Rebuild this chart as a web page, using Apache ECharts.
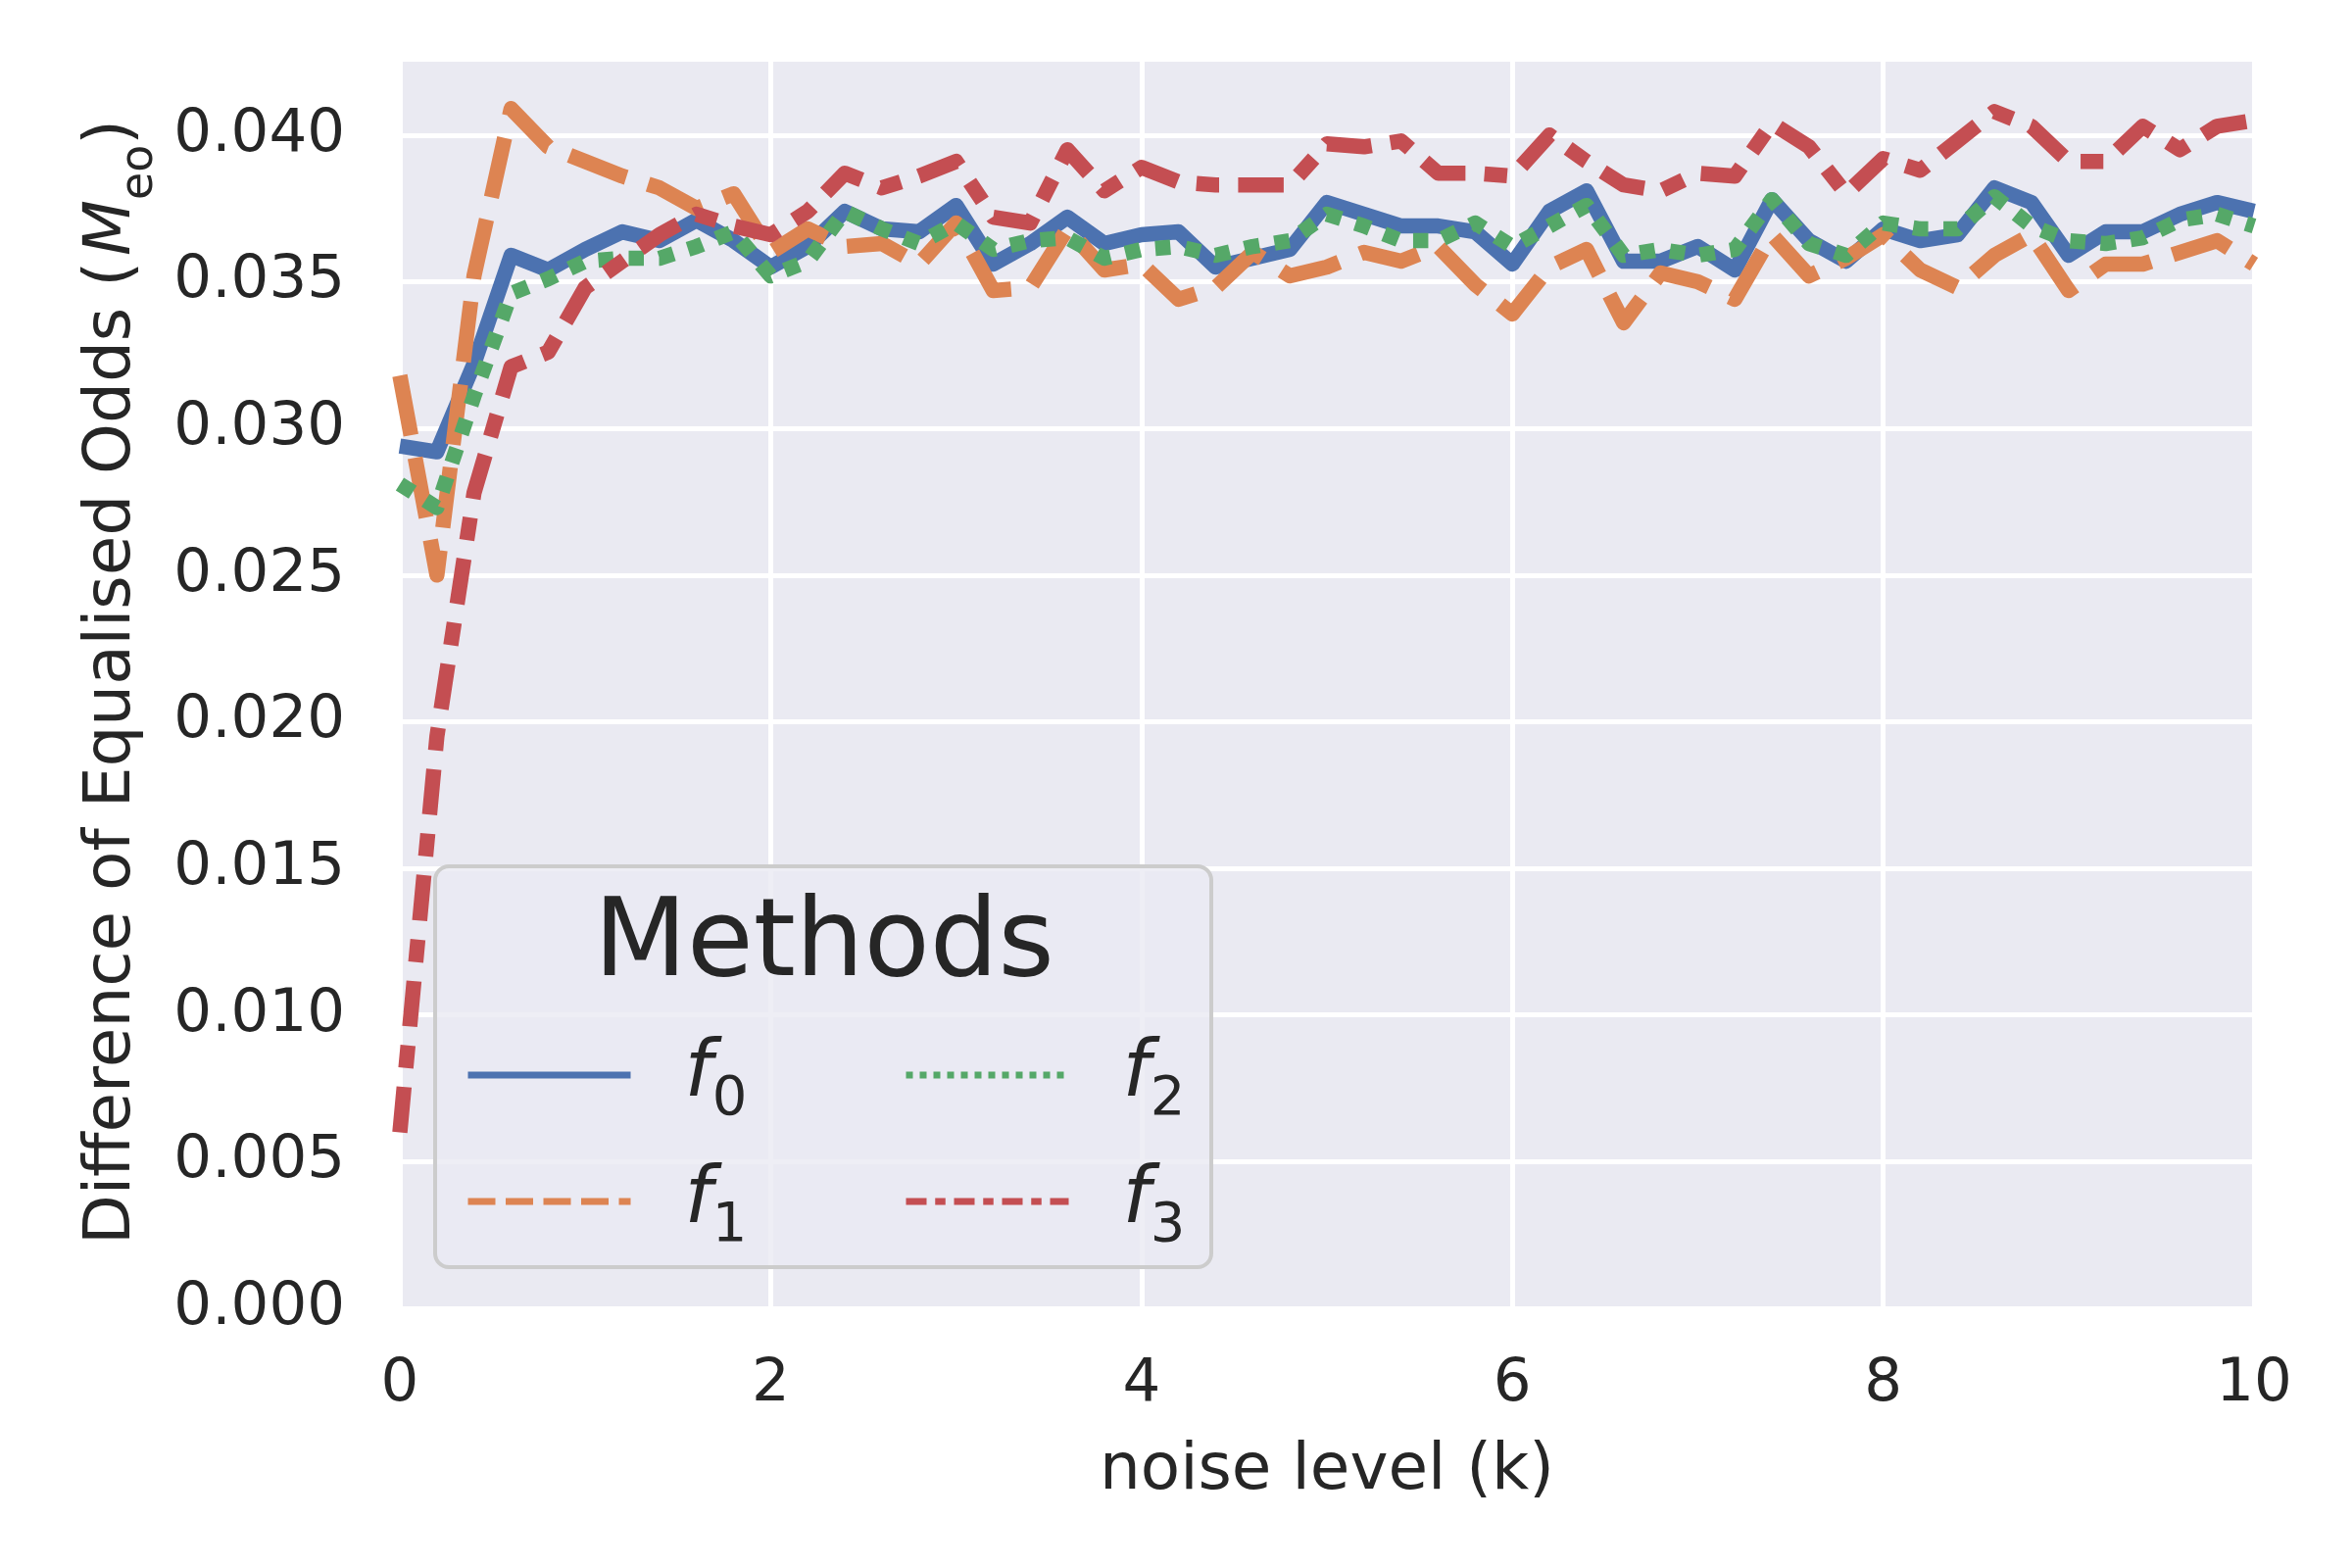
<!DOCTYPE html>
<html>
<head>
<meta charset="utf-8">
<title>Difference of Equalised Odds vs noise level</title>
<script src="https://cdn.jsdelivr.net/npm/echarts@6/dist/echarts.min.js"></script>
<style>
  html, body { margin: 0; padding: 0; background: #ffffff; }
  #chart { width: 2400px; height: 1600px; }
</style>
</head>
<body>
<div id="chart"></div>
<script>
// noise level k, one sample every 0.2
var noiseLevels = [
  0.0, 0.2, 0.4, 0.6, 0.8, 1.0, 1.2, 1.4, 1.6, 1.8,
  2.0, 2.2, 2.4, 2.6, 2.8, 3.0, 3.2, 3.4, 3.6, 3.8,
  4.0, 4.2, 4.4, 4.6, 4.8, 5.0, 5.2, 5.4, 5.6, 5.8,
  6.0, 6.2, 6.4, 6.6, 6.8, 7.0, 7.2, 7.4, 7.6, 7.8,
  8.0, 8.2, 8.4, 8.6, 8.8, 9.0, 9.2, 9.4, 9.6, 9.8, 10.0
];

var f0 = [
  0.0294, 0.0292, 0.0322, 0.0359, 0.0354, 0.0361, 0.0367, 0.0364, 0.0371, 0.0364,
  0.0355, 0.0362, 0.0374, 0.0368, 0.0367, 0.0376, 0.0356, 0.0363, 0.0372, 0.0363,
  0.0366, 0.0367, 0.0355, 0.0358, 0.0361, 0.0377, 0.0373, 0.0369, 0.0369, 0.0367,
  0.0356, 0.0374, 0.0381, 0.0357, 0.0357, 0.0362, 0.0354, 0.0378, 0.0364, 0.0357,
  0.0368, 0.0364, 0.0366, 0.0382, 0.0377, 0.0359, 0.0367, 0.0367, 0.0373, 0.0377, 0.0374
];

var f1 = [
  0.0318, 0.0250, 0.0352, 0.0409, 0.0396, 0.0391, 0.0386, 0.0382, 0.0375, 0.0380,
  0.0360, 0.0368, 0.0362, 0.0363, 0.0356, 0.0370, 0.0347, 0.0348, 0.0368, 0.0354,
  0.0356, 0.0344, 0.0348, 0.0360, 0.0352, 0.0355, 0.0360, 0.0357, 0.0362, 0.0349,
  0.0339, 0.0355, 0.0361, 0.0336, 0.0353, 0.0350, 0.0344, 0.0366, 0.0352, 0.0358,
  0.0366, 0.0354, 0.0348, 0.0359, 0.0366, 0.0347, 0.0356, 0.0356, 0.0360, 0.0364, 0.0356
];

var f2 = [
  0.0281, 0.0273, 0.0311, 0.0346, 0.0351, 0.0357, 0.0358, 0.0358, 0.0362, 0.0367,
  0.0352, 0.0357, 0.0374, 0.0368, 0.0363, 0.0370, 0.0361, 0.0364, 0.0365, 0.0358,
  0.0361, 0.0362, 0.0359, 0.0362, 0.0364, 0.0373, 0.0369, 0.0364, 0.0364, 0.0370,
  0.0362, 0.0369, 0.0376, 0.0359, 0.0361, 0.0359, 0.0361, 0.0378, 0.0363, 0.0359,
  0.0370, 0.0368, 0.0368, 0.0379, 0.0369, 0.0364, 0.0363, 0.0365, 0.0371, 0.0373, 0.0369
];

var f3 = [
  0.0060, 0.0195, 0.0278, 0.0321, 0.0326, 0.0348, 0.0357, 0.0366, 0.0373, 0.0369,
  0.0366, 0.0374, 0.0387, 0.0382, 0.0386, 0.0391, 0.0372, 0.0370, 0.0395, 0.0381,
  0.0389, 0.0384, 0.0383, 0.0383, 0.0383, 0.0397, 0.0396, 0.0398, 0.0387, 0.0387,
  0.0386, 0.0400, 0.0391, 0.0383, 0.0381, 0.0387, 0.0386, 0.0404, 0.0396, 0.0380,
  0.0392, 0.0388, 0.0398, 0.0408, 0.0403, 0.0391, 0.0391, 0.0403, 0.0395, 0.0403, 0.0405
];

var xTicks = [0, 2, 4, 6, 8, 10];
var yTicks = [0.000, 0.005, 0.010, 0.015, 0.020, 0.025, 0.030, 0.035, 0.040];
var methodNames = ['f0', 'f1', 'f2', 'f3'];

var FONT = '"DejaVu Sans", "Liberation Sans", sans-serif';
var INK = '#262626';
var colors = ['#4C72B0', '#DD8452', '#55A868', '#C44E52'];
// seaborn's default dash sequence, scaled by line width
var dashUnits = [null, [4, 1.5], [1, 1], [3, 1.25, 1.5, 1.25]];
function dashFor(i, w) {
  return dashUnits[i] ? dashUnits[i].map(function (d) { return d * w; }) : 'solid';
}
var LW = 15.5;   // plotted lines
var LLW = 7;     // legend handles
var seriesValues = [f0, f1, f2, f3];

function pairs(ys) {
  return noiseLevels.map(function (x, i) { return [x, ys[i]]; });
}

var chart = echarts.init(document.getElementById('chart'), null, { renderer: 'canvas' });

var series = methodNames.map(function (name, i) {
  return {
    name: name,
    type: 'line',
    data: pairs(seriesValues[i]),
    symbol: 'none',
    showSymbol: false,
    smooth: false,
    animation: false,
    lineStyle: { color: colors[i], width: LW, type: dashFor(i, LW), cap: 'butt', join: 'round' },
    itemStyle: { color: colors[i] },
    emphasis: { disabled: true }
  };
});

var hiddenSymbol = { color: 'rgba(0,0,0,0)', borderColor: 'rgba(0,0,0,0)', borderWidth: 0, opacity: 0 };

function legendColumn(names, left) {
  return {
    show: true,
    orient: 'vertical',
    left: left, top: 1044,
    padding: 0,
    itemGap: 23,
    itemWidth: 166, itemHeight: 80,
    selectedMode: false,
    z: 8,
    itemStyle: hiddenSymbol,
    lineStyle: { width: LLW },
    data: names.map(function (name) {
      var i = methodNames.indexOf(name);
      return {
        name: name,
        itemStyle: hiddenSymbol,
        lineStyle: { width: LLW, type: dashFor(i, LLW), cap: 'butt' }
      };
    }),
    formatter: function (name) { return '{f|f}{s|' + name.slice(1) + '}'; },
    textStyle: {
      color: INK, fontFamily: FONT,
      rich: {
        f: { fontStyle: 'italic', fontSize: 80, lineHeight: 80, padding: [0, 0, 0, 50], color: INK, fontFamily: FONT },
        s: { fontSize: 56, lineHeight: 30, padding: [50, 0, 0, 0], color: INK, fontFamily: FONT }
      }
    }
  };
}

var option = {
  backgroundColor: '#ffffff',
  animation: false,
  grid: {
    left: 408, right: 100, top: 63, bottom: 265,
    show: true, backgroundColor: '#EAEAF2', borderWidth: 0
  },
  xAxis: {
    type: 'value', min: 0, max: 10, interval: 2,
    axisLine: { show: false }, axisTick: { show: false },
    axisLabel: {
      margin: 48, fontSize: 61, fontFamily: FONT, color: INK,
      formatter: function (v) { return xTicks.indexOf(v) >= 0 ? String(v) : ''; }
    },
    splitLine: { show: true, lineStyle: { color: '#ffffff', width: 5 } }
  },
  yAxis: {
    type: 'value', min: 0, max: 0.0425, interval: 0.005,
    axisLine: { show: false }, axisTick: { show: false },
    axisLabel: {
      margin: 56, fontSize: 61, fontFamily: FONT, color: INK, showMaxLabel: false,
      formatter: function (v) {
        for (var i = 0; i < yTicks.length; i++) {
          if (Math.abs(yTicks[i] - v) < 1e-9) return yTicks[i].toFixed(3);
        }
        return '';
      }
    },
    splitLine: { show: true, showMaxLine: false, lineStyle: { color: '#ffffff', width: 5 } }
  },
  legend: [
    legendColumn(['f0', 'f1'], 474),
    legendColumn(['f2', 'f3'], 921)
  ],
  graphic: [
    {
      type: 'rect', z: 6, silent: true,
      shape: { x: 444, y: 884, width: 792, height: 409, r: 14 },
      style: { fill: 'rgba(234,234,242,0.8)', stroke: '#cccccc', lineWidth: 4 }
    },
    {
      type: 'text', z: 8, silent: true,
      x: 841, y: 966,
      style: { text: 'Methods', fontSize: 110, fontFamily: FONT, fill: INK, align: 'center', verticalAlign: 'middle' }
    },
    {
      type: 'text', z: 8, silent: true,
      x: 1354, y: 1502,
      style: { text: 'noise level (k)', fontSize: 66, fontFamily: FONT, fill: INK, align: 'center', verticalAlign: 'middle' }
    },
    {
      type: 'text', z: 8, silent: true,
      x: 115, y: 696, rotation: Math.PI / 2,
      style: {
        text: '{t|Difference of Equalised Odds (}{m|M}{s|eo}{t|)}',
        align: 'center', verticalAlign: 'middle', fill: INK,
        rich: {
          t: { fontSize: 66, lineHeight: 80, fontFamily: FONT, fill: INK },
          m: { fontSize: 66, lineHeight: 80, fontStyle: 'italic', fontFamily: FONT, fill: INK, padding: [0, 0, 0, 6] },
          s: { fontSize: 46, lineHeight: 24, fontFamily: FONT, fill: INK, padding: [56, 0, 0, 0] }
        }
      }
    }
  ],
  series: series
};

chart.setOption(option);
</script>
</body>
</html>
